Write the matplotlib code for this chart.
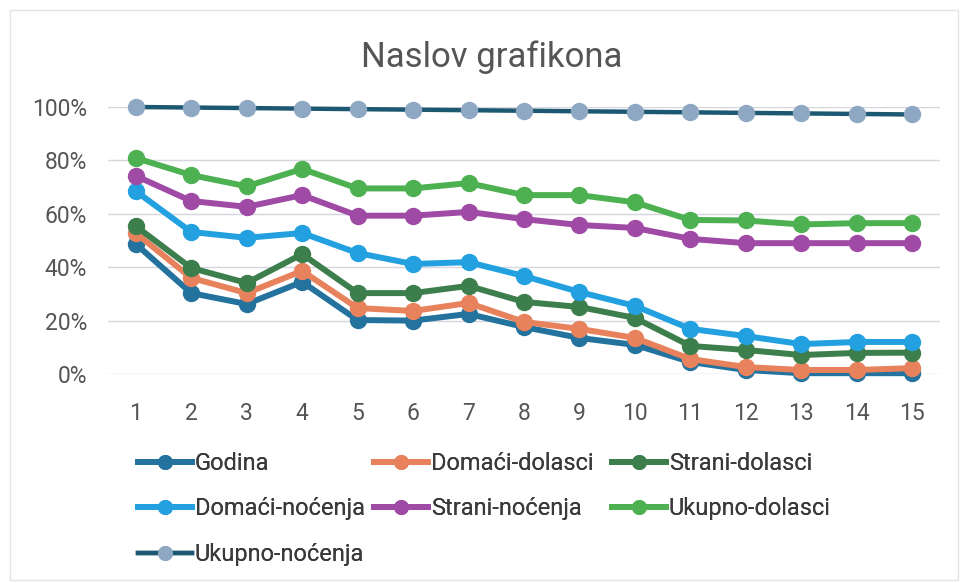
import matplotlib.pyplot as plt
from matplotlib.patches import Rectangle
from matplotlib.ticker import PercentFormatter

plt.rcParams['font.family'] = ['Roboto', 'DejaVu Sans']

years = list(range(1, 16))

godina = [48.7, 30.3, 26.2, 34.5, 20.2, 20.0, 22.5, 17.6, 13.5, 10.9, 4.5, 1.5, 0.3, 0.3, 0.3]
domaci_dolasci = [52.8, 36.0, 30.3, 38.6, 24.7, 23.6, 26.6, 19.5, 16.9, 13.5, 5.6, 2.6, 1.5, 1.5, 2.2]
strani_dolasci = [55.4, 39.7, 34.1, 44.9, 30.3, 30.3, 33.0, 27.0, 25.1, 21.0, 10.5, 9.0, 7.1, 7.9, 8.0]
domaci_nocenja = [68.5, 53.2, 51.0, 52.8, 45.3, 41.2, 41.9, 36.7, 30.7, 25.5, 16.9, 14.2, 11.2, 12.0, 12.0]
strani_nocenja = [74.2, 64.8, 62.6, 67.0, 59.3, 59.3, 60.7, 58.0, 55.8, 54.7, 50.6, 49.0, 49.0, 49.0, 49.0]
ukupno_dolasci = [80.9, 74.5, 70.3, 76.8, 69.5, 69.5, 71.5, 67.0, 67.0, 64.3, 57.7, 57.5, 56.0, 56.5, 56.5]
ukupno_nocenja = [100.0, 99.8, 99.6, 99.4, 99.2, 99.0, 98.8, 98.6, 98.4, 98.2, 98.0, 97.8, 97.6, 97.4, 97.2]

labels = ['Godina', 'Domaći-dolasci', 'Strani-dolasci', 'Domaći-noćenja',
          'Strani-noćenja', 'Ukupno-dolasci', 'Ukupno-noćenja']
series = [godina, domaci_dolasci, strani_dolasci, domaci_nocenja,
          strani_nocenja, ukupno_dolasci, ukupno_nocenja]
line_colors = ['#23739e', '#e8825c', '#3d7f4c', '#22a0df', '#9f4ba6', '#4db152', '#1d5873']
marker_colors = ['#23739e', '#e8825c', '#3d7f4c', '#22a0df', '#9f4ba6', '#4db152', '#8ea8c3']

fig = plt.figure(figsize=(9.6, 5.83), dpi=100)
ax = fig.add_axes([108 / 960, 1 - 374 / 583, 832 / 960, 267 / 583])

# faint frame of the chart area (scanned)
fig.patches.append(Rectangle((10 / 960, 3 / 583), 948 / 960, 570 / 583, transform=fig.transFigure,
                             fill=False, edgecolor='#e4e4e8', lw=1))

handles = []
for vals, lab, lc, mc in zip(series, labels, line_colors, marker_colors):
    lw = 3.2 if lab == 'Ukupno-noćenja' else 4.3
    h, = ax.plot(years, vals, color=lc, lw=lw, marker='o', markersize=11.5,
                 markerfacecolor=mc, markeredgecolor=mc, label=lab, clip_on=False, zorder=3)
    handles.append(h)

ax.set_xlim(0.5, 15.5)
ax.set_ylim(0, 100)
ax.set_yticks([0, 20, 40, 60, 80, 100])
ax.yaxis.set_major_formatter(PercentFormatter(decimals=0))
ax.set_xticks(years)
ax.grid(axis='y', color='#d6d6de', lw=1)
ax.set_axisbelow(True)
for s in ax.spines.values():
    s.set_visible(False)
ax.tick_params(length=0, labelsize=16.5, colors='#555555')
ax.tick_params(axis='y', pad=15)
ax.tick_params(axis='x', pad=20)

fig.text(492 / 960, 1 - 57 / 583, 'Naslov grafikona', ha='center', va='center',
         fontsize=25, color='#555555')

# legend: three columns placed separately like the Excel layout
cols = [([0, 3, 6], 138), ([1, 4], 374), ([2, 5], 612)]
for idx, xpix in cols:
    leg = fig.legend([handles[i] for i in idx], [labels[i] for i in idx],
                     loc='upper left', bbox_to_anchor=(xpix / 960, 1 - 452 / 583),
                     frameon=False, fontsize=17, handlelength=2.3, handletextpad=0.1,
                     labelspacing=0.95, borderpad=0, borderaxespad=0, numpoints=1,
                     markerscale=0.85, labelcolor='#3a3a3a')
    fig.add_artist(leg)

fig.savefig('out.png', dpi=100)
